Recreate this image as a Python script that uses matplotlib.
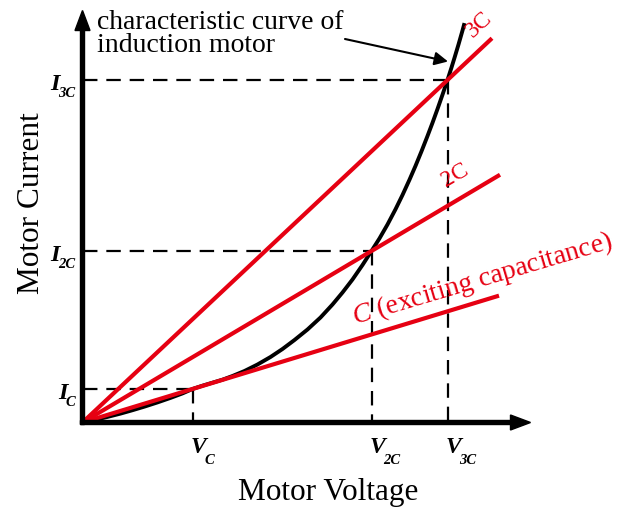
import matplotlib
matplotlib.use("Agg")
import matplotlib.pyplot as plt
from matplotlib.patches import FancyArrow

plt.rcParams['font.family'] = ['Liberation Serif', 'DejaVu Serif']
plt.rcParams['mathtext.fontset'] = 'custom'
plt.rcParams['mathtext.rm'] = 'Liberation Serif'
plt.rcParams['mathtext.it'] = 'Liberation Serif:italic'
plt.rcParams['mathtext.bf'] = 'Liberation Serif:bold'

RED = '#e60012'

# Operating points: voltage and current where each capacitance line meets the motor curve
v_points = [110, 289, 365]
i_points = [33.5, 171.5, 342.5]
v_sub = ['C', '2C', '3C']
i_sub = ['C', '2C', '3C']

# End voltage of each capacitance line
line_ends = [416.5, 417.5, 409.5]

# Motor characteristic curve (voltage, current)
curve_v = [0, 12, 25, 38, 50, 62, 75, 88, 100, 110, 120, 130, 140, 150, 162, 175,
           188, 200, 212, 225, 238, 250, 260, 270, 280, 289, 297, 305, 313, 320,
           327, 333, 339, 345, 350, 355, 360, 365, 369, 372, 376, 380, 382]
curve_i = [0, 2.5, 5.6, 8.9, 12.3, 15.9, 20.1, 24.6, 29.1, 33.5, 36.8, 39.8, 42.8,
           46.5, 51.5, 58, 65.5, 73.5, 82.5, 93, 105, 118, 130, 143, 157.5, 171.5,
           184.1, 198, 213.2, 227.5, 242.8, 256.6, 271.2, 286.5, 299.7, 313.5, 327.8,
           342.5, 355, 364.7, 378, 392, 399.4]

fig = plt.figure(figsize=(6.27, 5.09), dpi=100)
ax = fig.add_axes([0, 0, 1, 1])
ax.set_xlim(-82.5, 627 - 82.5)
ax.set_ylim(422.5 - 509, 422.5)
ax.axis('off')

# Axes with arrow heads
ax.add_patch(FancyArrow(-2, 0, 450, 0, width=4, head_width=15, head_length=20,
                        length_includes_head=True, color='black', zorder=5))
ax.add_patch(FancyArrow(0, -2, 0, 414, width=4, head_width=15, head_length=20,
                        length_includes_head=True, color='black', zorder=5))

dash = (0, (6.5, 4))
for v, i in zip(v_points, i_points):
    ax.plot([0, v], [i, i], color='black', lw=1.6, linestyle=dash, zorder=2)
    ax.plot([v, v], [i, 0], color='black', lw=1.6, linestyle=dash, zorder=2)

# Capacitance load lines through the origin and each operating point
for v, i, xe in zip(v_points, i_points, line_ends):
    slope = i / v
    ax.plot([0, xe], [0, slope * xe], color=RED, lw=3.0, solid_capstyle='butt', zorder=4)

# Induction motor characteristic
ax.plot(curve_v, curve_i, color='black', lw=2.8, solid_joinstyle='round',
        solid_capstyle='butt', zorder=3)

# Voltage tick labels
for v, s in zip(v_points, v_sub):
    t = ax.text(v - 2, -30.5, 'V', fontsize=17, fontweight='bold', fontstyle='italic',
                ha='left', va='baseline')
    ax.annotate(s, xy=(1, 0), xycoords=t, xytext=(-1.5, -4.5), textcoords='offset points',
                fontsize=10.5, fontweight='bold', fontstyle='italic', ha='left', va='baseline')

# Current tick labels
for i, s in zip(i_points, i_sub):
    sub = ax.text(-7.5, i - 16.5, s, fontsize=10.5, fontweight='bold', fontstyle='italic',
                  ha='right', va='baseline')
    ax.annotate('I', xy=(0, 0), xycoords=sub, xytext=(1.5, 6.5), textcoords='offset points',
                fontsize=17.5, fontweight='bold', fontstyle='italic', ha='right', va='baseline')

# Axis titles
ax.text(246, -77.5, 'Motor Voltage', fontsize=22.5, ha='center', va='baseline')
ax.text(-43.5, 219.5, 'Motor Current', fontsize=22.5, rotation=90,
        rotation_mode='anchor', ha='center', va='baseline')

# Curve annotation
ax.text(14.5, 394, 'characteristic curve of', fontsize=20, ha='left', va='baseline')
ax.text(14.5, 371, 'induction motor', fontsize=20, ha='left', va='baseline')
ax.annotate('', xy=(365.5, 361), xytext=(262.5, 383.5),
            arrowprops=dict(arrowstyle='-|>', lw=1.5, color='black',
                            mutation_scale=20, shrinkA=0, shrinkB=0))

# Capacitance labels
ax.text(397, 398, '3C', fontsize=17, color=RED, rotation=43,
        rotation_mode='anchor', ha='center', va='center')
ax.text(373, 247, '2C', fontsize=17, color=RED, rotation=30,
        rotation_mode='anchor', ha='center', va='center')
ax.text(399.5, 143.5, r'$\mathit{C}$ (exciting capacitance)', fontsize=20, color=RED,
        rotation=16.5, rotation_mode='anchor', ha='center', va='center')

fig.savefig('out.png', dpi=100)
